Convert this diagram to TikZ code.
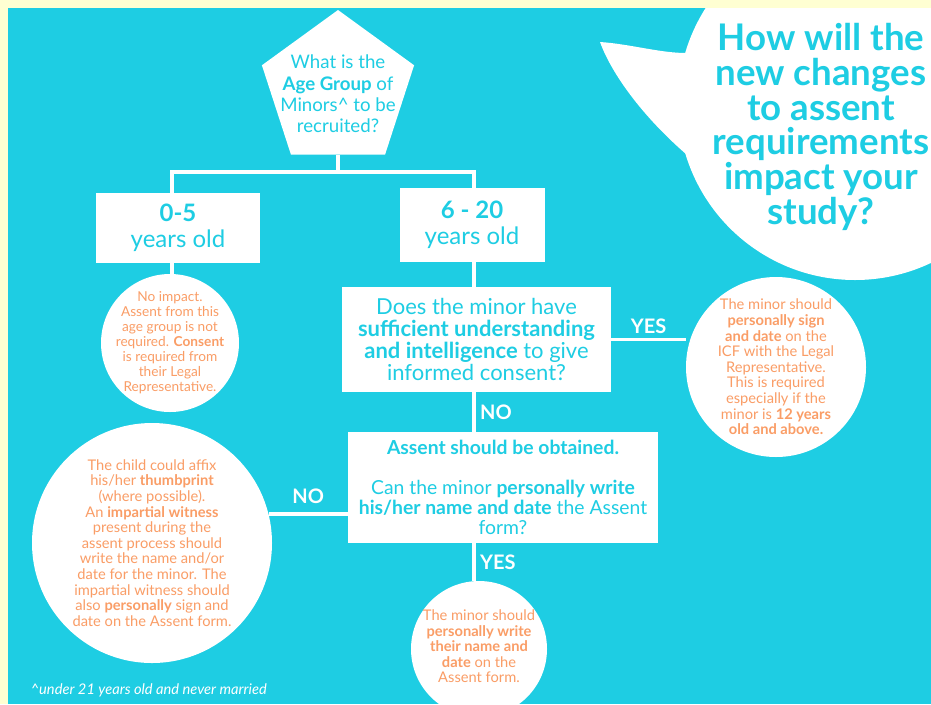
\documentclass[tikz,border=0pt]{standalone}
\usepackage{fontspec}
\setmainfont{Lato}
\usetikzlibrary{shapes.geometric}

\definecolor{sky}{HTML}{1ECDE3}
\definecolor{peach}{HTML}{FA9D66}
\definecolor{cream}{HTML}{FFFFD2}

\begin{document}
\begin{tikzpicture}[x=0.75pt,y=-0.75pt,
  link/.style={draw=white,line width=2.6pt},
  box node/.style={rectangle,fill=white,text=sky,align=center,inner sep=0pt},
  spot node/.style={circle,fill=white,inner sep=0pt},
  note/.style={text=peach,align=center,font=\fontsize{11}{11.7}\selectfont},
  answer/.style={text=white,font=\fontsize{15}{18}\selectfont\bfseries}]

  \useasboundingbox (0,0) rectangle (931,704);
  \fill[cream] (0,0) rectangle (931,704);
  \fill[sky] (8,8) rectangle (931,704);

  % speech bubble
  \begin{scope}
    \clip (8,8) rectangle (931,704);
    \fill[white] (855,103) circle [radius=177];
    \fill[white] (686,53) .. controls (660,53) and (630,44) .. (600,42)
      .. controls (612,75) and (645,120) .. (693,160) -- cycle;
  \end{scope}
  \node[text=sky,align=center,font=\fontsize{27.5}{26}\selectfont\bfseries] (title) at (821,127)
    {How will the\\new changes\\to assent\\requirements\\impact your\\study?};

  \node[regular polygon,regular polygon sides=5,fill=white,minimum size=120pt,inner sep=0pt,
    label={[text=sky,align=center,font=\fontsize{14}{16}\selectfont,yshift=-3pt]center:{What is the\\\textbf{Age Group} of\\Minors\textasciicircum{} to be\\recruited?}}] (age) at (338,90) {};

  \node[box node,minimum width=123pt,minimum height=52.5pt,font=\fontsize{18}{19.5}\selectfont]
    (young) at (178,228) {\textbf{0-5}\\years old};
  \node[box node,minimum width=108.75pt,minimum height=55.5pt,font=\fontsize{18}{19.5}\selectfont]
    (older) at (472,225) {\textbf{6 - 20}\\years old};

  \node[spot node,minimum size=103.5pt,
    label={[note,font=\fontsize{10.25}{11.25}\selectfont]center:{No impact.\\Assent from this\\age group is not\\required. \textbf{Consent}\\is required from\\their Legal\\Representative.}}]
    (noimp) at (170,343) {};

  \node[box node,minimum width=201.75pt,minimum height=78.75pt,font=\fontsize{16.5}{16.5}\selectfont]
    (ask) at (476.5,339.5) {Does the minor have\\\textbf{sufficient understanding}\\\textbf{and intelligence} to give\\informed consent?};

  \node[spot node,minimum size=135pt,
    label={[note]center:{The minor should\\\textbf{personally sign}\\\textbf{and date} on the\\ICF with the Legal\\Representative.\\This is required\\especially if the\\minor is \textbf{12 years}\\\textbf{old and above.}}}]
    (sign) at (776,367) {};

  \node[box node,minimum width=232.5pt,minimum height=83.25pt,font=\fontsize{14.5}{15}\selectfont]
    (assent) at (503,487.5) {\textbf{Assent should be obtained.}\\[15pt]Can the minor \textbf{personally write}\\\textbf{his/her name and date} the Assent\\form?};

  \node[spot node,minimum size=180pt,
    label={[note]center:{The child could affix\\his/her \textbf{thumbprint}\\(where possible).\\An \textbf{impartial witness}\\present during the\\assent process should\\write the name and/or\\date for the minor. The\\impartial witness should\\also \textbf{personally} sign and\\date on the Assent form.}}]
    (thumb) at (152,543) {};

  \node[spot node,minimum size=102pt,
    label={[note,yshift=2pt]center:{The minor should\\\textbf{personally write}\\\textbf{their name and}\\\textbf{date} on the\\Assent form.}}]
    (write) at (479,649) {};

  \node[anchor=west,text=white,font=\fontsize{11}{12}\selectfont\itshape] (foot) at (26,690)
    {\textasciicircum{}under 21 years old and never married};

  \coordinate (split) at (338,172);
  \coordinate (left) at (172,172);
  \coordinate (right) at (474,172);
  \draw[link] (young.north -| left) -- (left) -- (right) -- (older.north -| right);

  \path[link,every node/.style={answer}]
    (age.south) edge (split)
    (young.south -| left) edge (noimp.north -| left)
    (older.south -| right) edge (ask.north -| right)
    (ask.east) edge node [above] {YES} (ask.east -| sign.west)
    (ask.south -| right) edge node [right] {NO} (assent.north -| right)
    (thumb.14 -| assent.west) edge node [above=3pt] {NO} (thumb.14)
    (assent.south -| right) edge node [right] {YES} (write.north -| right);
\end{tikzpicture}
\end{document}
